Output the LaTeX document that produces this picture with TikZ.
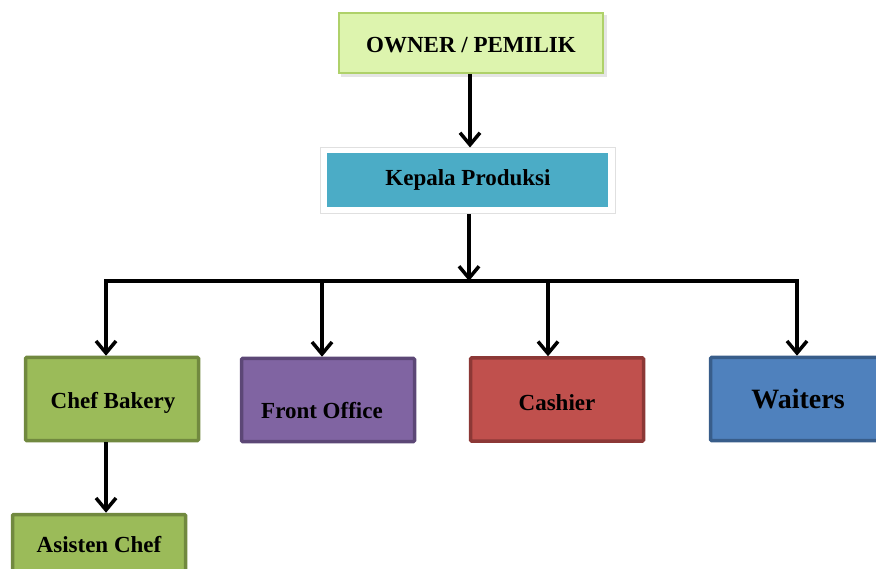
\documentclass[tikz,border=0pt]{standalone}
\usepackage{fontspec}
\setmainfont{Liberation Serif}
\usetikzlibrary{arrows.meta}
\definecolor{ownerfill}{HTML}{DDF4AE}
\definecolor{ownerdraw}{HTML}{AFD16A}
\definecolor{teal}{HTML}{4BACC6}
\definecolor{gfill}{HTML}{9BBB59}
\definecolor{gdraw}{HTML}{71893F}
\definecolor{pfill}{HTML}{8064A2}
\definecolor{pdraw}{HTML}{5C4776}
\definecolor{rfill}{HTML}{C0504D}
\definecolor{rdraw}{HTML}{8C3836}
\definecolor{bfill}{HTML}{4F81BD}
\definecolor{bdraw}{HTML}{385D8A}
\tikzset{
  box/.style={rectangle, line width=3.5pt, rounded corners=1pt, minimum width=173pt, minimum height=83pt, inner sep=0pt},
  txt/.style={font=\bfseries\fontsize{23}{27}\selectfont, inner sep=0pt, anchor=base},
  arr/.style={line width=3.5pt, -{Straight Barb[length=12pt,width=20pt,line width=3.5pt]}},
  ln/.style={line width=3.5pt},
}
\begin{document}
\begin{tikzpicture}[x=1pt,y=-1pt]
\useasboundingbox (0,0) rectangle (876,569);
% owner
\fill[black!10] (341,15) rectangle (607,77);
\node[rectangle, fill=ownerfill, draw=ownerdraw, line width=2pt, minimum width=264pt, minimum height=60pt, inner sep=0pt] (own) at (471,43) {};
\node[txt] (ownt) at (471,53) {OWNER / PEMILIK};
% kepala produksi
\node[rectangle, fill=white, draw=black!12, line width=1pt, minimum width=295pt, minimum height=66pt] (kpf) at (467.5,181) {};
\node[rectangle, fill=teal, minimum width=281pt, minimum height=54pt, inner sep=0pt] (kp) at (467.5,180) {};
\node[txt] (kpt) at (468,185.5) {Kepala Produksi};
% bus coordinates
\coordinate (bus) at (469,281);
\coordinate (busL) at (104,281);
\coordinate (busR) at (799,281);
\coordinate (b1) at (106,281);
\coordinate (b2) at (322,281);
\coordinate (b3) at (548,281);
\coordinate (b4) at (797,281);
% children
\node[box, fill=gfill, draw=gdraw] (cb) at (112,399) {};
\node[txt] (cbt) at (113,408) {Chef Bakery};
\node[box, fill=pfill, draw=pdraw] (fo) at (328,400) {};
\node[txt] (fot) at (322,418) {Front Office};
\node[box, fill=rfill, draw=rdraw] (ca) at (557,399.5) {};
\node[txt] (cat) at (557,410) {Cashier};
\node[box, fill=bfill, draw=bdraw] (wa) at (797,399) {};
\node[txt, font=\bfseries\fontsize{28}{33}\selectfont] (wat) at (798,409) {Waiters};
\node[box, fill=gfill, draw=gdraw] (ac) at (99,556) {};
\node[txt] (act) at (99,552) {Asisten Chef};
% connectors
\draw[arr] (own.south -| 470,0) -- (kpf.north -| 470,0);
\draw[arr] (kpf.south -| bus) -- (bus);
\draw[ln] (busL) -- (busR);
\draw[arr] (b1) -- (b1 |- cb.north);
\draw[arr] (b2) -- (b2 |- fo.north);
\draw[arr] (b3) -- (b3 |- ca.north);
\draw[arr] (b4) -- (b4 |- wa.north);
\draw[arr] (b1 |- cb.south) -- (b1 |- ac.north);
\end{tikzpicture}
\end{document}
